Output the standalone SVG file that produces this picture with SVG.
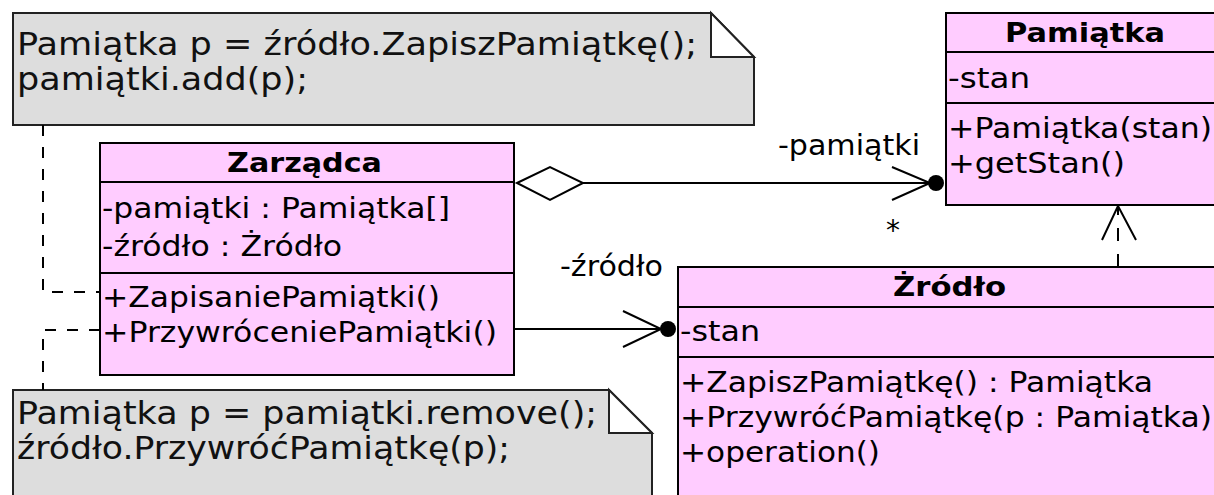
<svg xmlns="http://www.w3.org/2000/svg" width="1214" height="495" viewBox="0 0 1214 495">
<style>
.cls{fill:#ffccff;stroke:#000;stroke-width:2}
.div{stroke:#000;stroke-width:2}
.note{fill:#dddddd;stroke:#222;stroke-width:2}
.fold{fill:#ffffff;stroke:#222;stroke-width:2}
.t{font-family:"DejaVu Sans","Liberation Sans",sans-serif;font-size:28px;fill:#000}
.tb{font-family:"DejaVu Sans","Liberation Sans",sans-serif;font-size:27px;font-weight:bold;fill:#000}
.nt{font-family:"DejaVu Sans","Liberation Sans",sans-serif;font-size:32px;fill:#111}
.ln{fill:none;stroke:#000;stroke-width:2}
.dash{fill:none;stroke:#000;stroke-width:2;stroke-dasharray:11 11}
.dep{fill:none;stroke:#000;stroke-width:2;stroke-dasharray:13 13}
</style>
<g id="note-zapis">
<path class="note" d="M13,13 H711 L754,57 V125 H13 Z"/>
<path class="fold" d="M711,13 V57 H754 Z"/>
<text class="nt" x="17" y="55" textLength="680" lengthAdjust="spacingAndGlyphs">Pamiątka p = źródło.ZapiszPamiątkę();</text>
<text class="nt" x="17" y="90" textLength="291" lengthAdjust="spacingAndGlyphs">pamiątki.add(p);</text>
</g>
<g id="note-przywroc">
<path class="note" d="M13,390 H609 L652,433 V500 H13 Z"/>
<path class="fold" d="M609,390 V433 H652 Z"/>
<text class="nt" x="17" y="424" textLength="580" lengthAdjust="spacingAndGlyphs">Pamiątka p = pamiątki.remove();</text>
<text class="nt" x="17" y="459" textLength="493" lengthAdjust="spacingAndGlyphs">źródło.PrzywróćPamiątkę(p);</text>
</g>
<g id="connectors">
<path class="dash" d="M43,125 V292 H100"/>
<path class="dash" d="M100,330 H43 V390"/>
<line class="ln" x1="583" y1="183" x2="936" y2="183"/>
<polygon points="517,183 550,167 583,183 550,200" fill="#fff" stroke="#000" stroke-width="2"/>
<polyline class="ln" points="892,167 930,183 892,200"/>
<circle cx="936" cy="183" r="8" fill="#000"/>
<text class="t" x="778" y="155" textLength="142" lengthAdjust="spacingAndGlyphs">-pamiątki</text>
<text class="t" x="886" y="240">*</text>
<line class="ln" x1="514" y1="329" x2="667" y2="329"/>
<polyline class="ln" points="623,311 661,329 623,347"/>
<circle cx="668" cy="329" r="8" fill="#000"/>
<text class="t" x="560" y="276" textLength="103" lengthAdjust="spacingAndGlyphs">-źródło</text>
<line class="dep" x1="1118" y1="267" x2="1118" y2="207"/>
<polyline class="ln" points="1102,240 1118,206 1136,240"/>
</g>
<g id="zarzadca">
<rect class="cls" x="100" y="143" width="414" height="232"/>
<line class="div" x1="100" y1="182" x2="514" y2="182"/>
<line class="div" x1="100" y1="273" x2="514" y2="273"/>
<text class="tb" x="227" y="172" textLength="155" lengthAdjust="spacingAndGlyphs">Zarządca</text>
<text class="t" x="102" y="218" textLength="348" lengthAdjust="spacingAndGlyphs">-pamiątki : Pamiątka[]</text>
<text class="t" x="102" y="256" textLength="240" lengthAdjust="spacingAndGlyphs">-źródło : Żródło</text>
<text class="t" x="102" y="307" textLength="338" lengthAdjust="spacingAndGlyphs">+ZapisaniePamiątki()</text>
<text class="t" x="102" y="342" textLength="395" lengthAdjust="spacingAndGlyphs">+PrzywróceniePamiątki()</text>
</g>
<g id="pamiatka">
<rect class="cls" x="946" y="13" width="280" height="192"/>
<line class="div" x1="946" y1="52" x2="1226" y2="52"/>
<line class="div" x1="946" y1="103" x2="1226" y2="103"/>
<text class="tb" x="1005" y="42" textLength="160" lengthAdjust="spacingAndGlyphs">Pamiątka</text>
<text class="t" x="948" y="88" textLength="82" lengthAdjust="spacingAndGlyphs">-stan</text>
<text class="t" x="948" y="138" textLength="264" lengthAdjust="spacingAndGlyphs">+Pamiątka(stan)</text>
<text class="t" x="948" y="173" textLength="177" lengthAdjust="spacingAndGlyphs">+getStan()</text>
</g>
<g id="zrodlo">
<rect class="cls" x="678" y="267" width="550" height="240"/>
<line class="div" x1="678" y1="307" x2="1228" y2="307"/>
<line class="div" x1="678" y1="357" x2="1228" y2="357"/>
<text class="tb" x="893" y="296" textLength="113" lengthAdjust="spacingAndGlyphs">Żródło</text>
<text class="t" x="680" y="341" textLength="80" lengthAdjust="spacingAndGlyphs">-stan</text>
<text class="t" x="680" y="392" textLength="473" lengthAdjust="spacingAndGlyphs">+ZapiszPamiątkę() : Pamiątka</text>
<text class="t" x="680" y="427" textLength="532" lengthAdjust="spacingAndGlyphs">+PrzywróćPamiątkę(p : Pamiątka)</text>
<text class="t" x="680" y="462" textLength="200" lengthAdjust="spacingAndGlyphs">+operation()</text>
</g>
</svg>
